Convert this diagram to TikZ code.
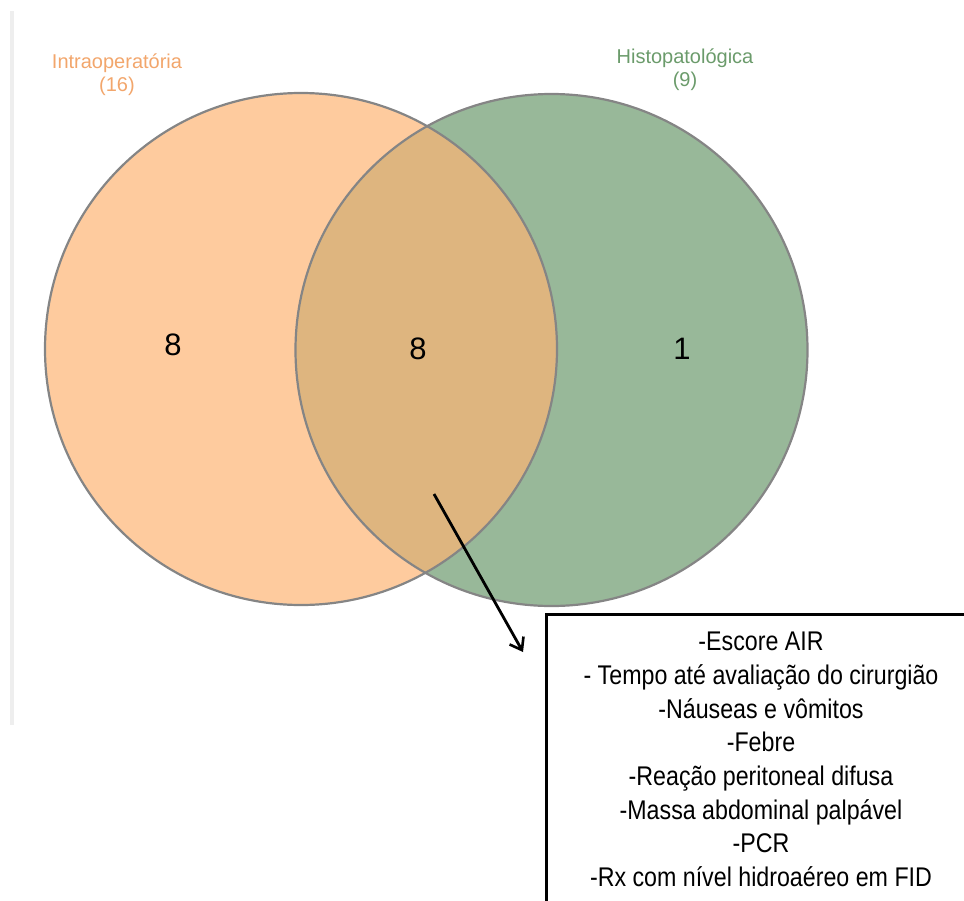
\documentclass[tikz,border=0pt]{standalone}
\usepackage{fontspec}
\setmainfont{Liberation Sans}
\newfontfamily\narrowfont[FakeStretch=0.86]{Liberation Sans}
\usetikzlibrary{arrows.meta}
\definecolor{peach}{HTML}{FECB9E}
\definecolor{sage}{HTML}{98B899}
\definecolor{lensfill}{HTML}{DEB57F}
\definecolor{rimgray}{HTML}{858585}
\definecolor{railgray}{HTML}{EEEEEE}
\definecolor{orangetext}{HTML}{F2A66C}
\definecolor{greentext}{HTML}{6B9B6B}
\tikzset{
  vennset/.style={circle, minimum size=512pt, inner sep=0pt},
  rim/.style={draw=rimgray, line width=2.2pt},
  setlabel/.style={align=center, font=\fontsize{20}{23}\selectfont, inner sep=0pt},
  count/.style={font=\fontsize{31}{33}\selectfont, inner sep=0pt},
  listbox/.style={draw=black, line width=2.6pt, inner sep=0pt, anchor=north west},
  listtext/.style={align=center, font=\narrowfont\fontsize{27}{33.7}\selectfont, inner sep=0pt},
  pointer/.style={draw=black, line width=2.8pt, -{Straight Barb[length=11pt, width=16pt, line width=2.6pt]}}
}
\begin{document}
\begin{tikzpicture}[x=1pt, y=-1pt]
\useasboundingbox (0,0) rectangle (964,900);
\begin{scope}
\clip (0,0) rectangle (964,900);
\fill[railgray] (10,11) rectangle (14,725);
\node[vennset, fill=peach] (L) at (301,349) {};
\node[vennset, fill=sage] (R) at (551.5,350) {};
\begin{scope}
  \clip (L.center) circle[radius=256pt];
  \fill[lensfill] (R.center) circle[radius=256pt];
\end{scope}
\draw[rim] (L.center) circle[radius=256pt];
\draw[rim] (R.center) circle[radius=256pt];
\node[setlabel, text=orangetext] (labL) at (117,75) {Intraoperatória\\(16)};
\node[setlabel, text=greentext] (labR) at (685,70) {Histopatológica\\(9)};
\node[count] (nL) at (173,345) {8};
\node[count] (nM) at (418,349) {8};
\node[count] (nR) at (682,349) {1};
\node[listbox, minimum width=432pt, minimum height=320pt] (box) at (545,613) {};
\node[listtext, anchor=north] (items) at (761,632) {-Escore AIR\\- Tempo até avaliação do cirurgião\\-Náuseas e vômitos\\-Febre\\-Reação peritoneal difusa\\-Massa abdominal palpável\\-PCR\\-Rx com nível hidroaéreo em FID};
\coordinate (a0) at (434,494);
\coordinate (a1) at (523,652);
\draw[pointer] (a0) -- (a1);
\end{scope}
\end{tikzpicture}
\end{document}
